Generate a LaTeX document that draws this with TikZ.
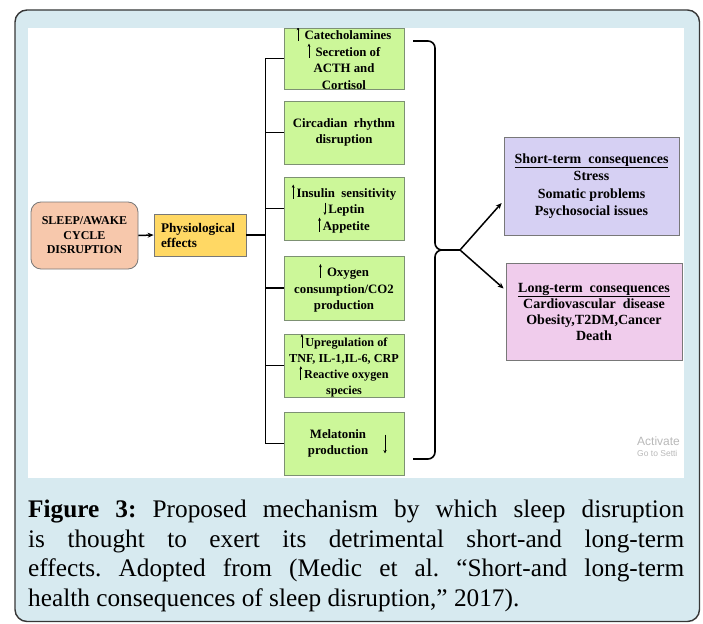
\documentclass[tikz,border=0pt]{standalone}
\usepackage{fontspec}
\setmainfont{Liberation Serif}
\usetikzlibrary{arrows.meta,calc}
\definecolor{bgblue}{RGB}{215,234,240}
\definecolor{framec}{RGB}{55,55,55}
\definecolor{gfill}{RGB}{204,247,153}
\definecolor{gdraw}{RGB}{125,145,115}
\definecolor{peach}{RGB}{247,200,172}
\definecolor{yell}{RGB}{255,216,100}
\definecolor{lav}{RGB}{214,208,243}
\definecolor{pinkc}{RGB}{240,204,236}
\definecolor{boxdraw}{RGB}{120,120,120}
\definecolor{wmc}{RGB}{185,185,185}
\newcommand\uarr{\tikz[baseline=0pt]\draw[line width=0.7pt,-{Stealth[length=3.2pt,width=2.8pt]}] (0pt,-1.5pt) -- (0pt,12.5pt);\hspace{2pt}}
\newcommand\darr{\tikz[baseline=0pt]\draw[line width=0.7pt,-{Stealth[length=3.2pt,width=2.8pt]}] (0pt,11pt) -- (0pt,-1.5pt);\hspace{2pt}}
\begin{document}
\begin{tikzpicture}[x=1pt,y=-1pt,
  gbox/.style={draw=gdraw, fill=gfill, line width=0.8pt, minimum width=120pt, minimum height=63pt, inner sep=0pt},
  gtext/.style={align=center, inner sep=0pt, font=\bfseries\fontsize{12.8}{16.5}\selectfont},
  conn/.style={line width=1.5pt, black},
  arr/.style={conn, -{Stealth[length=6pt,width=5pt]}},
  consbox/.style={draw=boxdraw, line width=0.8pt, inner sep=0pt, align=center}]
\useasboundingbox (0,0) rectangle (703,623);
\draw[draw=framec, fill=bgblue, line width=1.4pt, rounded corners=12pt] (15,10) rectangle (699.5,621.5);
\fill[white] (28,28) rectangle (683.5,478);
\begin{scope}
\clip (28,28.8) rectangle (683.5,478);
% left nodes
\node[draw=boxdraw, fill=peach, line width=0.8pt, rounded corners=10pt, minimum width=107pt, minimum height=67pt, inner sep=0pt, align=center, font=\bfseries\fontsize{12}{14.5}\selectfont] (sleep) at (84.5,235.5) {SLEEP/AWAKE\\CYCLE\\DISRUPTION};
\node[draw=boxdraw, fill=yell, line width=0.8pt, minimum width=92pt, minimum height=42pt, inner xsep=7pt, inner ysep=0pt, text width=78pt, align=left, font=\bfseries\fontsize{13.2}{15}\selectfont] (phys) at (200,235) {Physiological\\effects};
\draw[arr] (sleep.east) -- (phys.west);
% green boxes
\node[gbox, minimum height=61pt] (g1) at (344,58.5) {};
\node[gtext] (g1t) at (344,58) {\uarr\ Catecholamines\\\uarr\ Secretion of\\ACTH and\\Cortisol};
\node[gbox] (g2) at (344,132.5) {};
\node[gtext] (g2t) at (344,132.5) {Circadian\ \ rhythm\\disruption};
\node[gbox] (g3) at (344,208.5) {};
\node[gtext] (g3t) at (344,208.5) {\uarr Insulin\ \ sensitivity\\\darr Leptin\\\uarr Appetite};
\node[gbox, minimum height=64pt] (g4) at (344,288) {};
\node[gtext] (g4t) at (344,288) {\uarr\ Oxygen\\consumption/CO2\\production};
\node[gbox] (g5) at (344,365.5) {};
\node[gtext, font=\bfseries\fontsize{12.2}{16}\selectfont] (g5t) at (344,365.5) {\uarr Upregulation of\\TNF, IL-1,IL-6, CRP\\\uarr Reactive oxygen\\species};
\node[gbox] (g6) at (344,443.5) {};
\node[gtext] (g6t) at (338,443.5) {Melatonin\\production};
\draw[line width=0.8pt,-{Stealth[length=3.5pt,width=3.2pt]}] ($(g6.center)+(41,-9)$) -- ($(g6.center)+(41,10)$);
% bus
\draw[conn] (g1.west) -- ++(-18,0) coordinate (vt);
\draw[conn] (vt) |- (g6.west);
\draw[conn] (phys.east) -- (phys.east -| vt);
\draw[conn] (g2.west) -- (g2.west -| vt);
\draw[conn] (g3.west) -- (g3.west -| vt);
\draw[conn] (g4.west) -- (g4.west -| vt);
\draw[conn] (g5.west) -- (g5.west -| vt);
% brace
\coordinate (btip) at (460,250);
\draw[conn, line width=1.6pt, line join=round] (413,41) -- (428,41) to[out=0,in=90] (435,48) -- (435,243) to[out=-90,in=180] (442,250) -- (btip);
\draw[conn, line width=1.6pt, line join=round] (btip) -- (442,250) to[out=180,in=90] (435,257) -- (435,452) to[out=-90,in=0] (428,459) -- (413,459);
% consequences
\node[consbox, fill=lav, minimum width=175pt, minimum height=98pt, font=\bfseries\fontsize{14}{17.5}\selectfont] (st) at (591.5,186) {\underline{Short-term\ \ consequences}\\Stress\\Somatic problems\\Psychosocial issues};
\node[consbox, fill=pinkc, minimum width=176pt, minimum height=97pt, font=\bfseries\fontsize{14}{16}\selectfont] (lt) at (594,311.5) {\underline{Long-term\ \ consequences}\\Cardiovascular\ \ disease\\Obesity,T2DM,Cancer\\Death};
\draw[arr] (btip) -- ([xshift=-2pt,yshift=-17pt]st.west);
\draw[arr] (btip) -- ([xshift=-2pt,yshift=23pt]lt.west);
% watermark
\node[anchor=west, inner sep=0pt, text=wmc, font=\fontspec{Liberation Sans}\fontsize{12}{12}\selectfont] (wm1) at (637,441) {Activate};
\node[anchor=west, inner sep=0pt, text=wmc, font=\fontspec{Liberation Sans}\fontsize{8.5}{9}\selectfont] (wm2) at (637,453) {Go to Setti};
\end{scope}
% caption
\node[anchor=north west, inner sep=0pt, align=left, font=\frenchspacing\fontsize{25.3}{29.5}\selectfont] (cap) at (28,500) {\hbox to 656pt{\textbf{Figure 3:} Proposed mechanism by which sleep disruption}\\\hbox to 656pt{is thought to exert its detrimental short-and long-term}\\\hbox to 656pt{effects. Adopted from (Medic et al. “Short-and long-term}\\health consequences of sleep disruption,” 2017).};
\end{tikzpicture}
\end{document}
